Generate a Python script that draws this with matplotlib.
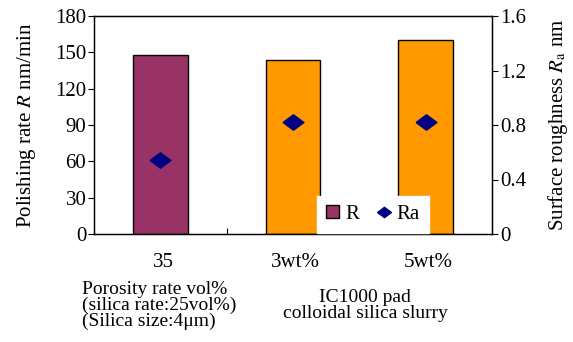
import matplotlib.pyplot as plt
import matplotlib.transforms as mtransforms
import numpy as np
from matplotlib.lines import Line2D
from matplotlib.patches import Patch

plt.rcParams['font.family'] = 'Liberation Serif'
plt.rcParams['mathtext.fontset'] = 'stix'

# datos
categorias = ['35', '3wt%', '5wt%']
tasa_R = [148, 144, 160]          # nm/min
rugosidad_Ra = [0.54, 0.82, 0.82]  # nm
colores = ['#993366', '#FF9900', '#FF9900']
texto_izq = ['Porosity rate vol%', '(silica rate:25vol%)', '(Silica size:4\u03bcm)']
texto_der = ['IC1000 pad', 'colloidal silica slurry']

W, H = 573, 342
fs = 15
fig = plt.figure(figsize=(W / 100, H / 100), dpi=100)
ax = fig.add_axes([94 / W, 1 - 234 / H, 398 / W, 218 / H])
x = np.arange(len(categorias))

ax.bar(x, tasa_R, width=0.41, color=colores, edgecolor='black', linewidth=1.0, zorder=2)
ax.set_xlim(-0.5, 2.5)
ax.set_ylim(0, 180)
ax.set_yticks(np.arange(0, 181, 30))
ax.set_xticks([0.5, 1.5])
ax.set_xticklabels([])
ax.tick_params(axis='x', direction='in', length=4)
ax.tick_params(axis='y', direction='out', length=4, labelsize=fs, pad=1.5)
ax.set_ylabel('Polishing rate $R$ nm/min', fontsize=fs, labelpad=12)
for s in ax.spines.values():
    s.set_linewidth(1.0)

# etiquetas de categoria
trans = mtransforms.blended_transform_factory(ax.transData, fig.transFigure)
for xi, lab in zip(x, categorias):
    ax.text(xi + 0.02, 1 - 267 / H, lab, transform=trans, ha='center', va='baseline', fontsize=fs)

ax2 = ax.twinx()
diamante = [(-1.35, 0), (0, 1), (1.35, 0), (0, -1), (-1.35, 0)]
ax2.plot(x, rugosidad_Ra, linestyle='none', marker=diamante, markersize=15, color='#000080', zorder=3)
ax2.set_ylim(0, 1.6)
ax2.set_yticks([0, 0.4, 0.8, 1.2, 1.6])
ax2.set_yticklabels(['0', '0.4', '0.8', '1.2', '1.6'])
ax2.tick_params(axis='y', direction='out', length=4, labelsize=fs, pad=2)
ax2.set_ylabel('Surface roughness $R_\\mathrm{a}$ nm', fontsize=fs, labelpad=14)

manejadores = [Patch(facecolor='#993366', edgecolor='black', label='R'),
               Line2D([], [], linestyle='none', marker=diamante, markersize=10, color='#000080', label='Ra')]
leg = ax2.legend(handles=manejadores, loc='lower left', bbox_to_anchor=(0.56, 0.003), ncol=2,
                 frameon=True, fancybox=False, fontsize=fs, handlelength=0.6, handleheight=0.6,
                 handletextpad=0.3, columnspacing=0.9, borderpad=0.45, borderaxespad=0)
leg.get_frame().set_edgecolor('white')
leg.get_frame().set_alpha(1.0)

# textos inferiores
fs_b = 14
for i, linea in enumerate(texto_izq):
    fig.text(82 / W, 1 - (294 + 16 * i) / H, linea, ha='left', va='baseline', fontsize=fs_b)
for i, linea in enumerate(texto_der):
    fig.text(365 / W, 1 - (302 + 16 * i) / H, linea, ha='center', va='baseline', fontsize=fs_b)

fig.savefig('out.png', dpi=100)
